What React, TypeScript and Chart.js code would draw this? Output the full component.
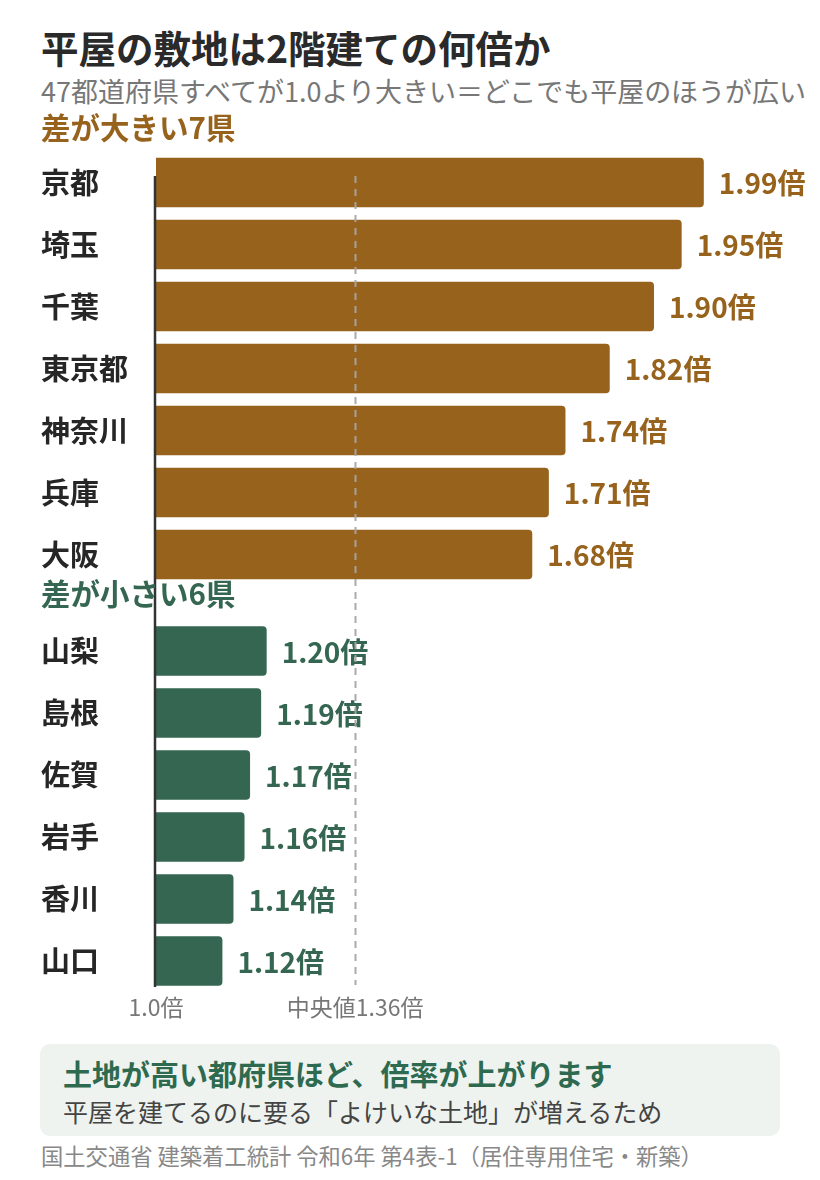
import React, { useEffect, useRef } from "react";
import { Chart, registerables } from "chart.js";

Chart.register(...registerables);

const bigCategories = ["京都", "埼玉", "千葉", "東京都", "神奈川", "兵庫", "大阪"];
const bigValues = [1.99, 1.95, 1.9, 1.82, 1.74, 1.71, 1.68];
const smallCategories = ["山梨", "島根", "佐賀", "岩手", "香川", "山口"];
const smallValues = [1.2, 1.19, 1.17, 1.16, 1.14, 1.12];
const medianValue = 1.36;
const axisTickValues = [1.0, 1.36];
const axisTickLabels = ["1.0倍", "中央値1.36倍"];
const axisMin = 1.0;
const axisMax = 2.2;

const FONT = "'Noto Sans CJK JP', 'Noto Sans', sans-serif";
const BROWN = "#96621c";
const GREEN = "#356651";

function makeLinesPlugin(part: "top" | "bottom") {
  return {
    id: "refLines" + part,
    afterDatasetsDraw(chart: any) {
      const { ctx, chartArea, scales } = chart;
      const xs = scales.x;
      const y0 = part === "top" ? chartArea.top + 24.5 : chartArea.top - 17;
      const y1 = part === "top" ? chartArea.bottom + 17.5 : chartArea.bottom - 5;
      const yd1 = part === "top" ? chartArea.bottom + 17.5 : chartArea.bottom - 7;
      // value labels
      const meta = chart.getDatasetMeta(0);
      const ds = chart.data.datasets[0];
      ctx.save();
      ctx.font = `bold 28px ${FONT}`;
      ctx.textAlign = "left";
      ctx.textBaseline = "middle";
      ctx.fillStyle = ds.backgroundColor;
      meta.data.forEach((bar: any, i: number) => {
        const v = ds.data[i] as number;
        ctx.fillText(v.toFixed(2) + "倍", bar.x + 15, bar.y + 1);
      });
      ctx.restore();
      // median dashed line
      const mx = Math.round(xs.getPixelForValue(medianValue)) + 0.5;
      ctx.save();
      ctx.strokeStyle = "rgba(165,165,165,0.95)";
      ctx.lineWidth = 2;
      ctx.setLineDash([7, 6]);
      ctx.beginPath();
      ctx.moveTo(mx, y0);
      ctx.lineTo(mx, yd1);
      ctx.stroke();
      ctx.restore();
      // base axis line
      const bx = xs.getPixelForValue(axisMin) - 1;
      ctx.save();
      ctx.strokeStyle = "#333333";
      ctx.lineWidth = 2.5;
      ctx.beginPath();
      ctx.moveTo(bx, y0);
      ctx.lineTo(bx, y1);
      ctx.stroke();
      ctx.restore();
    },
  };
}

function BarCanvas(props: {
  labels: string[];
  values: number[];
  color: string;
  part: "top" | "bottom";
  top: number;
  height: number;
}) {
  const ref = useRef<HTMLCanvasElement | null>(null);
  useEffect(() => {
    const canvas = ref.current;
    if (!canvas) return;
    const isBottom = props.part === "bottom";
    const chart = new Chart(canvas, {
      type: "bar",
      data: {
        labels: props.labels,
        datasets: [
          {
            data: props.values,
            backgroundColor: props.color,
            borderWidth: 0,
            borderRadius: 4,
            borderSkipped: false,
            categoryPercentage: 1,
            barPercentage: 0.8,
          },
        ],
      },
      options: {
        indexAxis: "y",
        animation: false,
        responsive: false,
        devicePixelRatio: 1,
        layout: {
          padding: isBottom
            ? { left: 41, right: 0, top: 30, bottom: 0 }
            : { left: 41, right: 0, top: 31.5, bottom: 39.5 },
        },
        plugins: {
          legend: { display: false },
          tooltip: { enabled: false },
          title: { display: false },
        },
        scales: {
          x: {
            type: "linear",
            min: axisMin,
            max: axisMax,
            display: isBottom,
            grid: { display: false, drawTicks: false },
            border: { display: false },
            afterBuildTicks: (scale: any) => {
              scale.ticks = axisTickValues.map((v) => ({ value: v }));
            },
            afterFit: (scale: any) => {
              if (isBottom) scale.height = 41;
            },
            ticks: {
              autoSkip: false,
              maxRotation: 0,
              padding: 1,
              color: "#777777",
              font: { family: FONT, size: 23 },
              callback: (_v: any, i: number) => axisTickLabels[i],
            },
          },
          y: {
            type: "category",
            grid: { display: false, drawTicks: false },
            border: { display: false },
            afterFit: (scale: any) => {
              scale.width = 115;
            },
            ticks: {
              crossAlign: "far",
              padding: 0,
              color: "#262626",
              font: { family: FONT, size: 29, weight: "bold" },
            },
          },
        },
      },
      plugins: [makeLinesPlugin(props.part)],
    } as any);
    return () => chart.destroy();
  }, []);
  return (
    <canvas
      ref={ref}
      width={820}
      height={props.height}
      style={{
        position: "absolute",
        left: 0,
        top: props.top,
        width: 820,
        height: props.height,
      }}
    />
  );
}

function Text(props: {
  x: number;
  cy: number;
  size: number;
  color: string;
  bold?: boolean;
  children: React.ReactNode;
}) {
  return (
    <div
      style={{
        position: "absolute",
        left: props.x,
        top: props.cy - props.size / 2,
        fontSize: props.size,
        lineHeight: `${props.size}px`,
        fontWeight: props.bold ? 700 : 400,
        color: props.color,
        whiteSpace: "nowrap",
        fontFamily: FONT,
      }}
    >
      {props.children}
    </div>
  );
}

export default function App() {
  return (
    <div
      style={{
        position: "absolute",
        left: 0,
        top: 0,
        width: 820,
        height: 1180,
        background: "#ffffff",
        overflow: "hidden",
        fontFamily: FONT,
      }}
    >
      <BarCanvas labels={bigCategories} values={bigValues} color={BROWN} part="top" top={120} height={505} />
      <BarCanvas labels={smallCategories} values={smallValues} color={GREEN} part="bottom" top={590} height={443} />
      <Text x={41} cy={47} size={37.5} color="#2a2a2a" bold>
        平屋の敷地は2階建ての何倍か
      </Text>
      <Text x={41} cy={90} size={27} color="#777777">
        47都道府県すべてが1.0より大きい＝どこでも平屋のほうが広い
      </Text>
      <Text x={41} cy={127} size={29.5} color={BROWN} bold>
        差が大きい7県
      </Text>
      <Text x={41} cy={593} size={29.5} color={GREEN} bold>
        差が小さい6県
      </Text>
      <div
        style={{
          position: "absolute",
          left: 40,
          top: 1044,
          width: 740,
          height: 92,
          background: "#eef3ef",
          borderRadius: 10,
        }}
      />
      <Text x={63} cy={1073} size={29} color="#2e6a4f" bold>
        土地が高い都府県ほど、倍率が上がります
      </Text>
      <Text x={63} cy={1111} size={25} color="#444444">
        平屋を建てるのに要る「よけいな土地」が増えるため
      </Text>
      <Text x={41} cy={1155} size={22.3} color="#888888">
        国土交通省 建築着工統計 令和6年 第4表-1（居住専用住宅・新築）
      </Text>
    </div>
  );
}
